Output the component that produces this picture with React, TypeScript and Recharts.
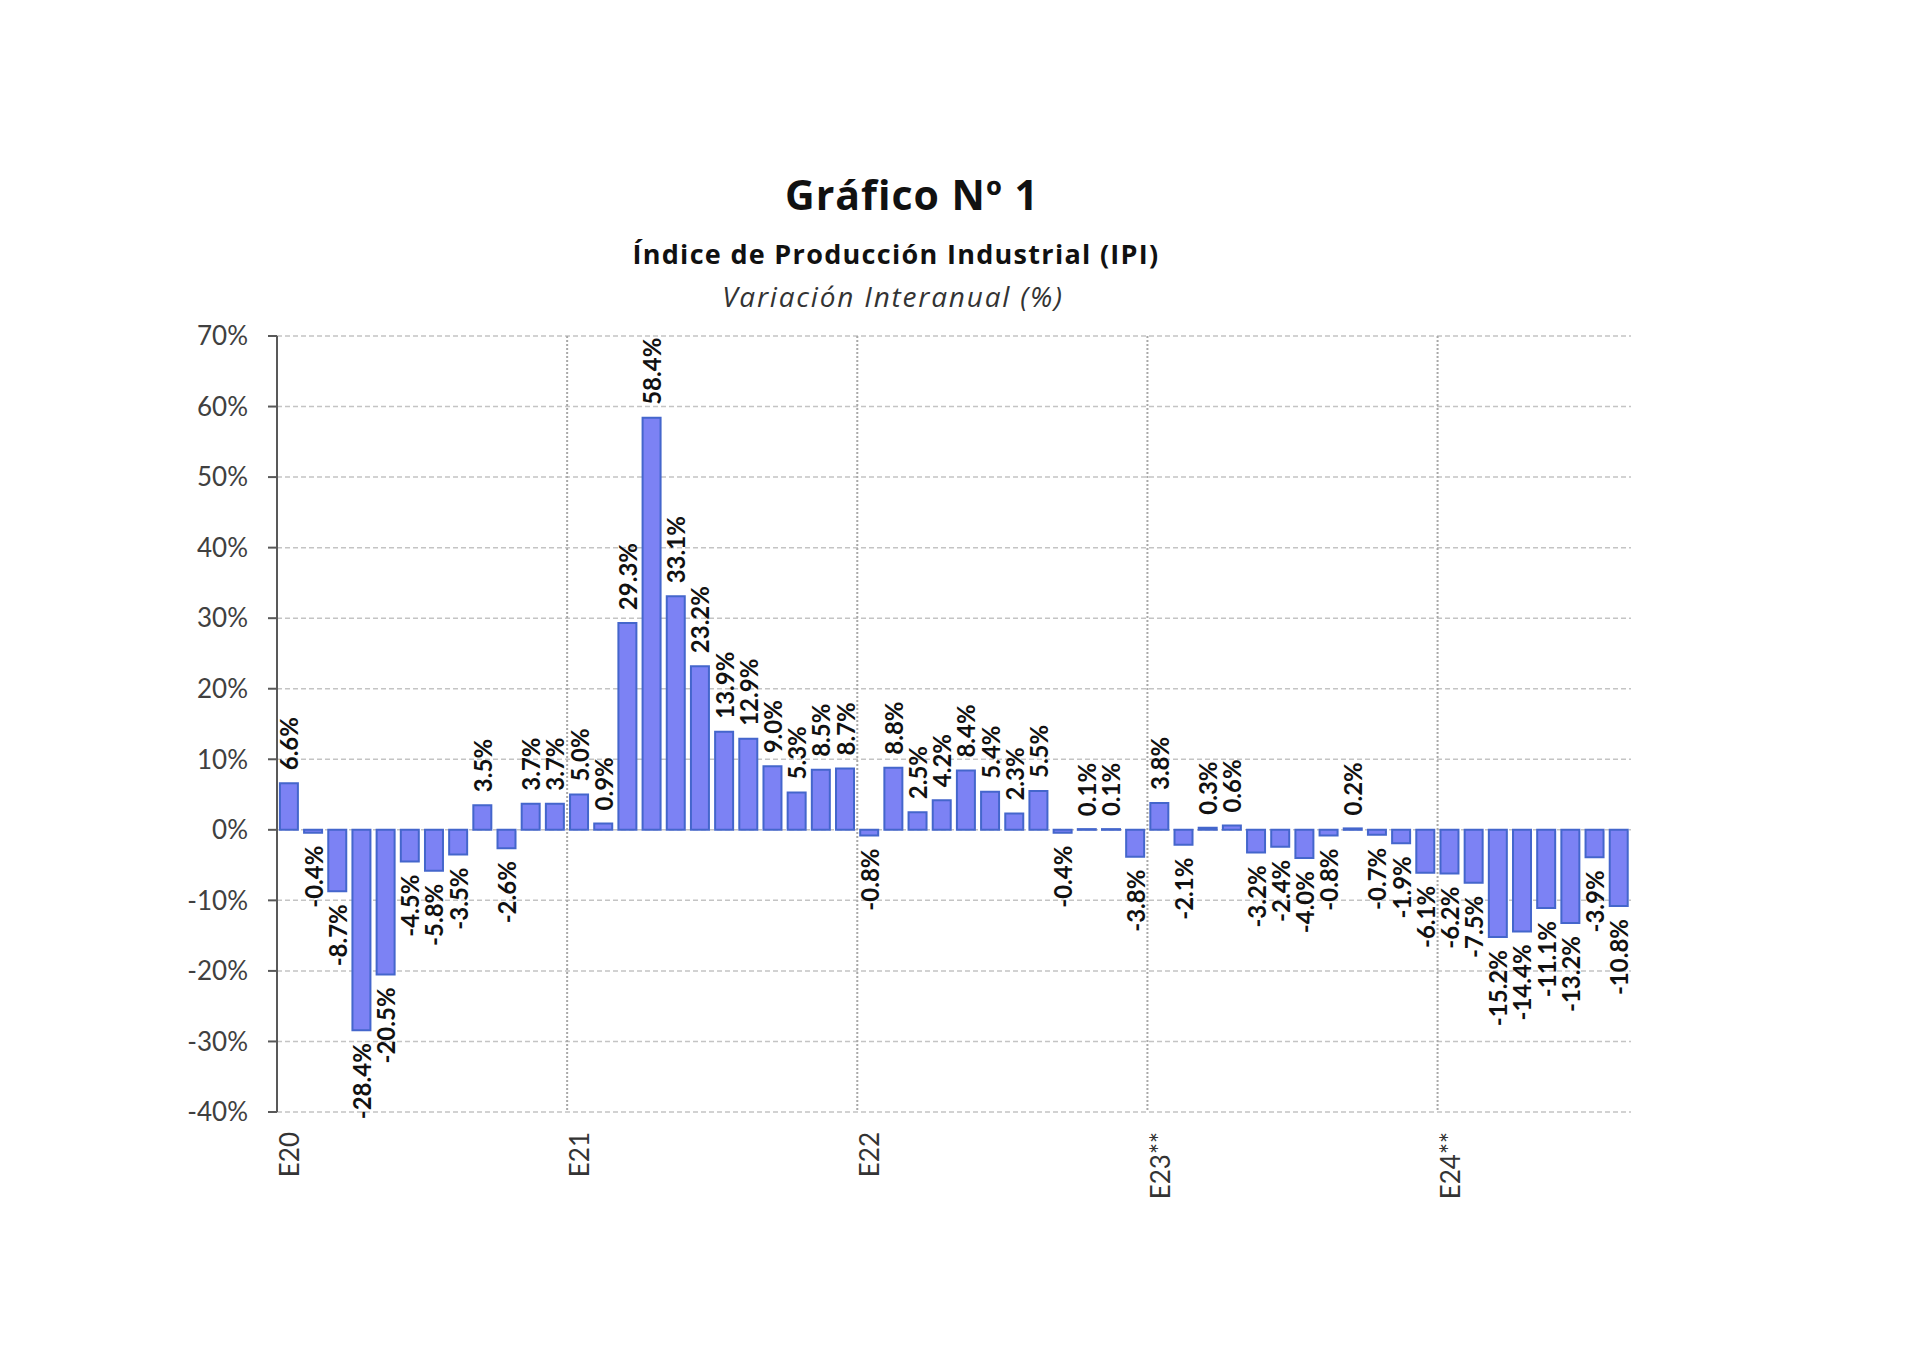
import React from 'react';
import { BarChart, Bar, XAxis, YAxis, CartesianGrid, LabelList } from 'recharts';

// Variación interanual del IPI (%), enero 2020 - agosto 2024
const ipi2020 = [6.6, -0.4, -8.7, -28.4, -20.5, -4.5, -5.8, -3.5, 3.5, -2.6, 3.7, 3.7];
const ipi2021 = [5.0, 0.9, 29.3, 58.4, 33.1, 23.2, 13.9, 12.9, 9.0, 5.3, 8.5, 8.7];
const ipi2022 = [-0.8, 8.8, 2.5, 4.2, 8.4, 5.4, 2.3, 5.5, -0.4, 0.1, 0.1, -3.8];
const ipi2023 = [3.8, -2.1, 0.3, 0.6, -3.2, -2.4, -4.0, -0.8, 0.2, -0.7, -1.9, -6.1];
const ipi2024 = [-6.2, -7.5, -15.2, -14.4, -11.1, -13.2, -3.9, -10.8];

const yearLabels = ['E20', 'E21', 'E22', 'E23**', 'E24**'];
const monthCodes = ['E', 'F', 'M', 'A', 'M', 'J', 'J', 'A', 'S', 'O', 'N', 'D'];
const yTicks = [-40, -30, -20, -10, 0, 10, 20, 30, 40, 50, 60, 70];

const series = [ipi2020, ipi2021, ipi2022, ipi2023, ipi2024];

const data = series.flatMap((vals, yi) =>
  vals.map((v, mi) => ({
    name: `${monthCodes[mi]}${yearLabels[yi].slice(1, 3)}`,
    tick: mi === 0 ? yearLabels[yi] : '',
    value: v,
  }))
);

const FONT = 'Lato, "Open Sans", sans-serif';
const TITLE_FONT = '"Open Sans", Lato, sans-serif';

const ValueLabel = (props: any) => {
  const { x, y, width, height, value } = props;
  const cx = x + width / 2;
  const top = Math.min(y, y + height);
  const bottom = Math.max(y, y + height);
  const neg = value < 0;
  const ay = neg ? bottom + 13 : top - 13;
  return (
    <text
      x={cx}
      y={ay}
      transform={`rotate(-90 ${cx} ${ay})`}
      textAnchor={neg ? 'end' : 'start'}
      dominantBaseline="central"
      fontFamily={FONT}
      fontSize={24}
      fontWeight={700}
      fill="#111"
    >
      {`${value.toFixed(1)}%`}
    </text>
  );
};

const YearTick = (props: any) => {
  const { x, y, index } = props;
  const label = data[index] ? data[index].tick : '';
  if (!label) return null;
  const ty = y + 12;
  return (
    <text
      x={x}
      y={ty}
      transform={`rotate(-90 ${x} ${ty})`}
      textAnchor="end"
      dominantBaseline="central"
      fontFamily={FONT}
      fontSize={26}
      fill="#333"
    >
      {label}
    </text>
  );
};

export default function App() {
  return (
    <div style={{ position: 'absolute', left: 0, top: 0, width: 1920, height: 1355, background: '#fff' }}>
      <div style={{ position: 'absolute', left: 0, width: 1824, top: 166, textAlign: 'center', fontFamily: TITLE_FONT, fontWeight: 700, fontSize: 41, letterSpacing: 1, color: '#111' }}>
        Gráfico Nº 1
      </div>
      <div style={{ position: 'absolute', left: 0, width: 1792, top: 235, textAlign: 'center', fontFamily: TITLE_FONT, fontWeight: 700, fontSize: 27, letterSpacing: 1.3, color: '#111' }}>
        Índice de Producción Industrial (IPI)
      </div>
      <div style={{ position: 'absolute', left: 0, width: 1786, top: 277, textAlign: 'center', fontFamily: TITLE_FONT, fontStyle: 'italic', fontSize: 28, letterSpacing: 1.8, color: '#333' }}>
        Variación Interanual (%)
      </div>
      <div style={{ position: 'absolute', left: 0, top: 0 }}>
        <BarChart
          width={1920}
          height={1355}
          data={data}
          margin={{ top: 336, right: 289, bottom: 143, left: 157 }}
          barCategoryGap="12%"
        >
          <CartesianGrid
            horizontal
            vertical={false}
            stroke="#c4c4c4"
            strokeWidth={1.5}
            strokeDasharray="5 3"
          />
          <CartesianGrid
            horizontal={false}
            vertical
            stroke="#a8a8a8"
            strokeWidth={2}
            strokeDasharray="2 2"
            verticalCoordinatesGenerator={({ offset }: any) =>
              [12, 24, 36, 48].map((k) => offset.left + (offset.width * k) / data.length)
            }
          />
          <XAxis
            dataKey="name"
            interval={0}
            axisLine={false}
            tickLine={false}
            tick={<YearTick />}
            height={100}
          />
          <YAxis
            domain={[-40, 70]}
            ticks={yTicks}
            interval={0}
            width={120}
            tickFormatter={(v: number) => `${v}%`}
            axisLine={{ stroke: '#595959', strokeWidth: 2 }}
            tickLine={{ stroke: '#595959', strokeWidth: 2 }}
            tickSize={9}
            tickMargin={20}
            tick={{ fontFamily: FONT, fontSize: 26, fill: '#404040' }}
          />
          <Bar dataKey="value" fill="#7C82F4" stroke="#4466CC" strokeWidth={2} isAnimationActive={false}>
            <LabelList dataKey="value" content={<ValueLabel />} />
          </Bar>
        </BarChart>
      </div>
    </div>
  );
}
